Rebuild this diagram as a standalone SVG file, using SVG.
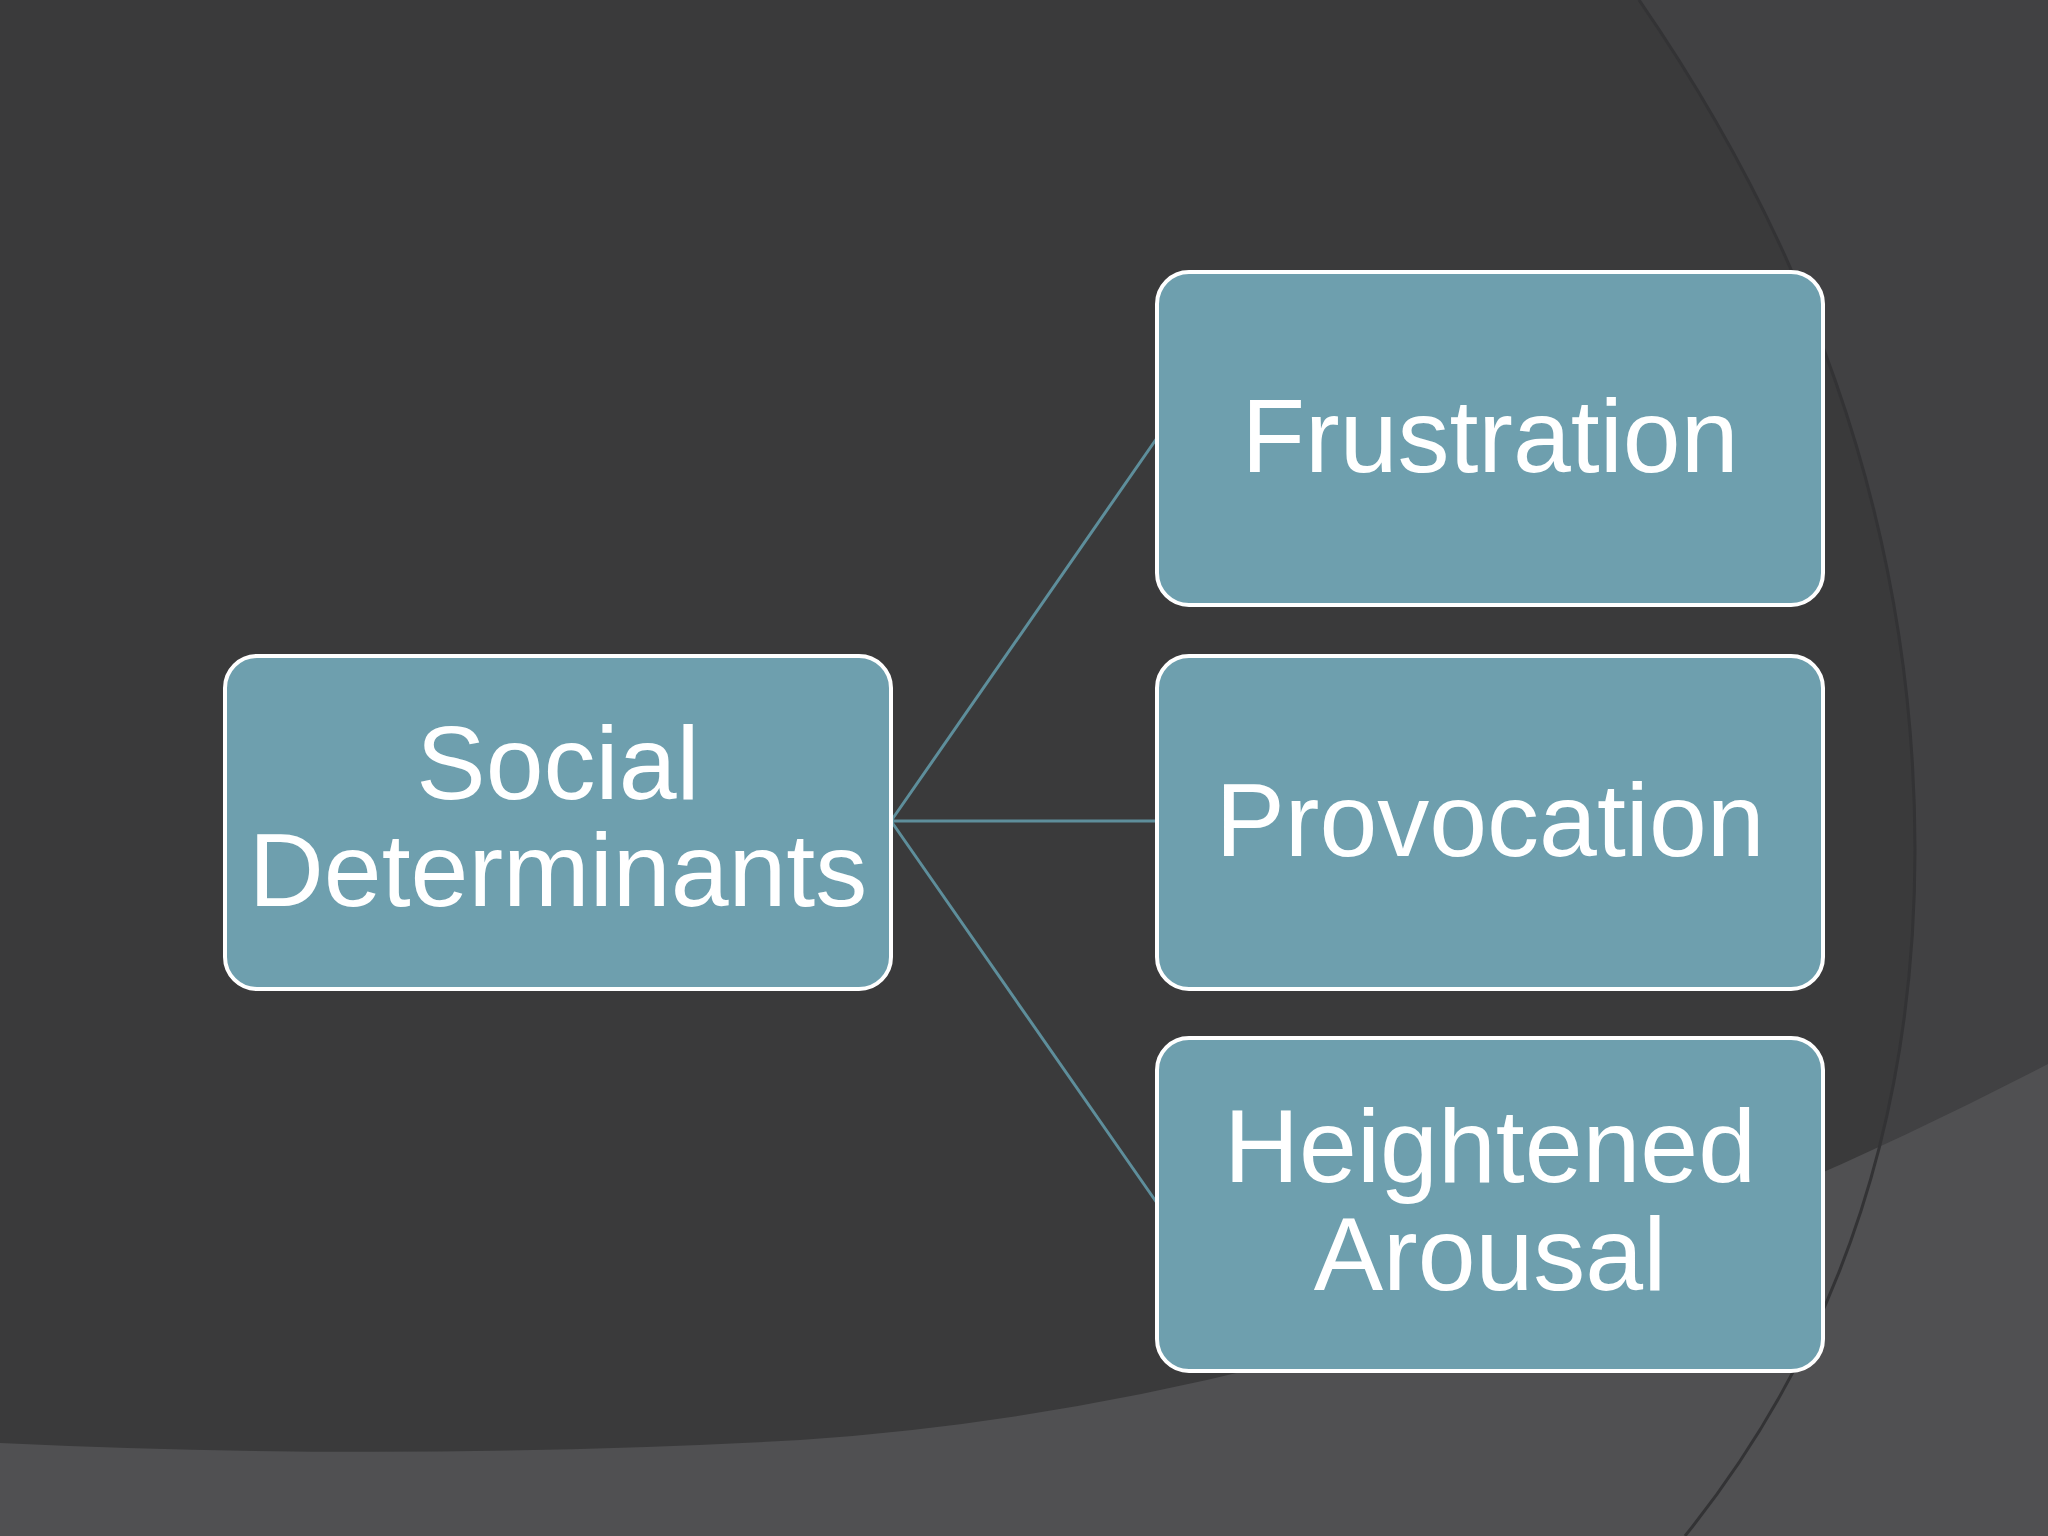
<svg xmlns="http://www.w3.org/2000/svg" width="2048" height="1536" viewBox="0 0 2048 1536">
<style>
.n{fill:#6e9fae;stroke:#fff;stroke-width:4}
.t{font-family:"Liberation Sans",Arial,sans-serif;font-size:104px;fill:#fff;text-anchor:middle}
.c{stroke:#5e8e9b;stroke-width:3;fill:none}
</style>
<rect width="2048" height="1536" fill="#3a3a3b"/>
<path d="M1639,0 Q1915,400 1915,850 Q1915,1250 1685,1536 L2048,1536 L2048,0 Z" fill="#414143"/>
<path d="M0,1443 Q400,1462 800,1440 Q1400,1400 2048,1064 L2048,1536 L0,1536 Z" fill="#505052"/>
<path d="M1639,0 Q1915,400 1915,850 Q1915,1250 1685,1536" fill="none" stroke="#333335" stroke-width="3"/>
<g id="connectors">
<path class="c" d="M891,821 L1157,438 M891,821 L1157,821 M891,821 L1157,1203"/>
</g>
<g id="social"><rect class="n" x="225" y="656" width="666" height="333" rx="32"/><text class="t" x="558" y="799">Social</text><text class="t" x="558" y="906">Determinants</text></g>
<g id="frustration"><rect class="n" x="1157" y="272" width="666" height="333" rx="32"/><text class="t" x="1490" y="472">Frustration</text></g>
<g id="provocation"><rect class="n" x="1157" y="656" width="666" height="333" rx="32"/><text class="t" x="1490" y="856">Provocation</text></g>
<g id="arousal"><rect class="n" x="1157" y="1038" width="666" height="333" rx="32"/><text class="t" x="1490" y="1182">Heightened</text><text class="t" x="1490" y="1290">Arousal</text></g>
</svg>
